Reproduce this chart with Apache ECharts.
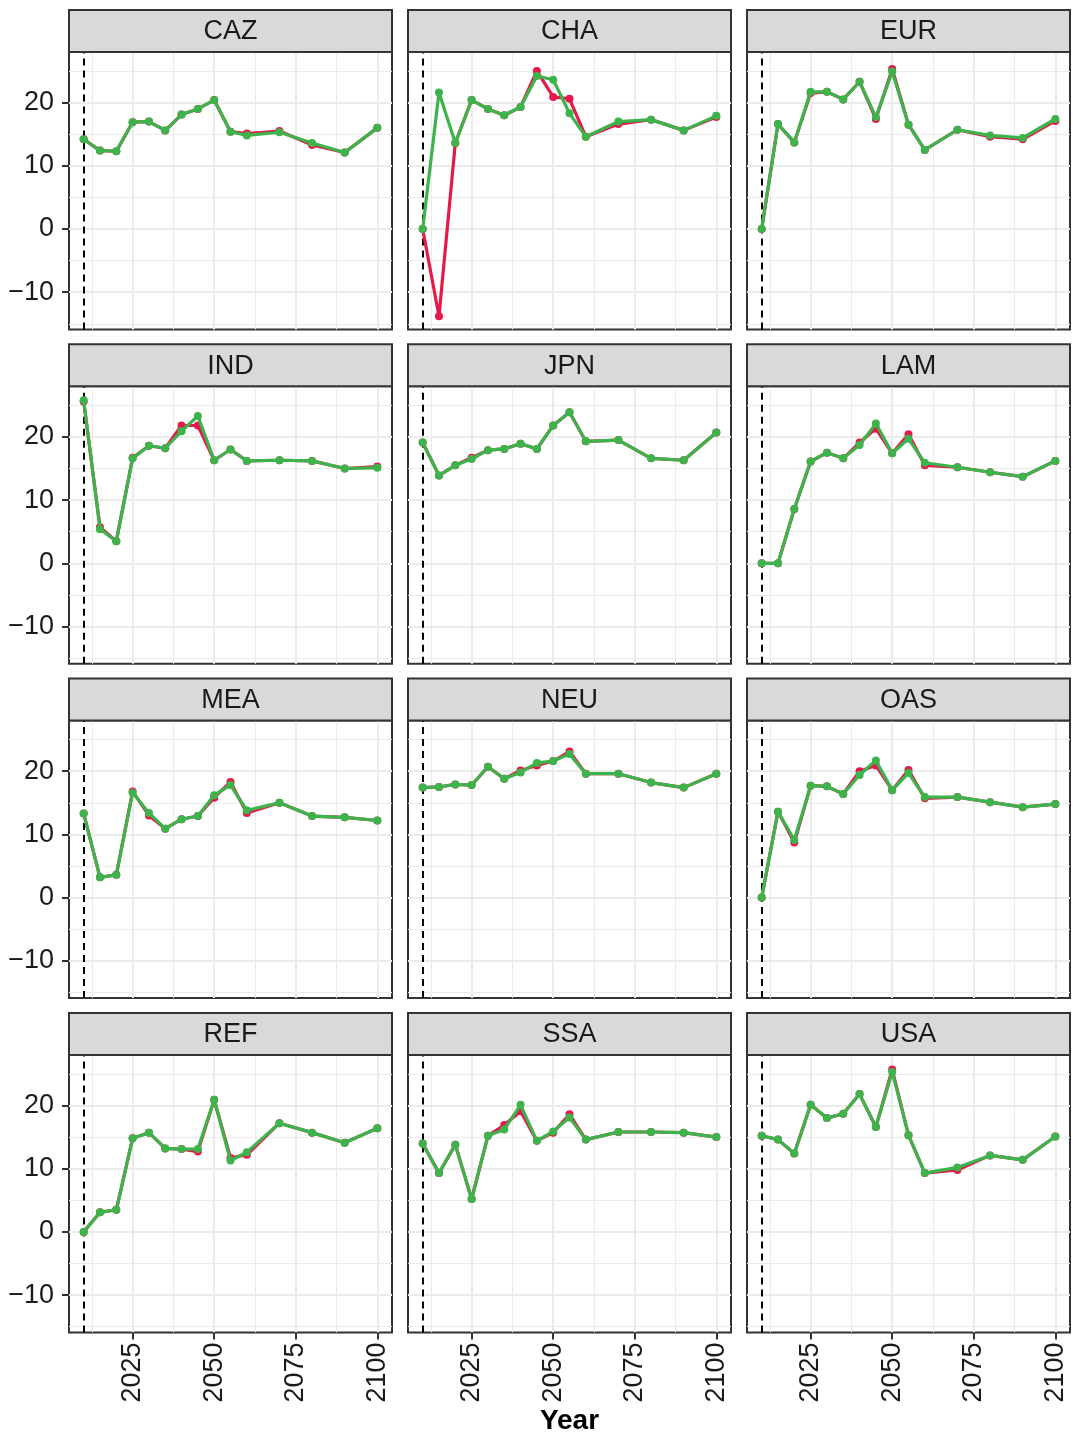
<!DOCTYPE html>
<html><head><meta charset="utf-8">
<script src="https://cdn.jsdelivr.net/npm/echarts@6/dist/echarts.min.js"></script>
<style>html,body{margin:0;padding:0;background:#fff}#c{width:1073px;height:1435px}</style>
</head><body><div id="c"></div>
<script>
// ---------------- data ----------------
const years = [2010, 2015, 2020, 2025, 2030, 2035, 2040, 2045, 2050, 2055, 2060, 2070, 2080, 2090, 2100];
const regions = ['CAZ', 'CHA', 'EUR', 'IND', 'JPN', 'LAM', 'MEA', 'NEU', 'OAS', 'REF', 'SSA', 'USA'];
const baseYear = 2010;
const xMajorTicks = [2025, 2050, 2075, 2100];
const xMinorTicks = [2012.5, 2037.5, 2062.5, 2087.5];
const yMajorTicks = [-10, 0, 10, 20];
const yMinorTicks = [-15, -5, 5, 15, 25];

const CAZ_red   = [14.2, 12.4, 12.3, 16.9, 17.0, 15.6, 18.1, 19.0, 20.4, 15.4, 15.1, 15.5, 13.3, 12.1, 16.0];
const CAZ_green = [14.2, 12.4, 12.3, 16.9, 17.0, 15.6, 18.1, 19.0, 20.4, 15.4, 14.8, 15.3, 13.6, 12.1, 16.0];
const CHA_red   = [0, -13.8, 13.6, 20.4, 19.0, 18.0, 19.3, 25.0, 20.9, 20.6, 14.6, 16.6, 17.3, 15.6, 17.7];
const CHA_green = [0, 21.6, 13.6, 20.4, 19.0, 18.0, 19.3, 24.2, 23.6, 18.3, 14.6, 17.0, 17.3, 15.6, 17.9];
const EUR_red   = [0, 16.6, 13.7, 21.5, 21.7, 20.5, 23.3, 17.4, 25.3, 16.5, 12.5, 15.7, 14.6, 14.2, 17.1];
const EUR_green = [0, 16.6, 13.7, 21.7, 21.7, 20.5, 23.3, 17.7, 24.9, 16.5, 12.5, 15.7, 14.8, 14.4, 17.4];
const IND_red   = [25.6, 5.7, 3.5, 16.7, 18.6, 18.2, 21.8, 21.8, 16.3, 18.0, 16.2, 16.3, 16.2, 15.0, 15.3];
const IND_green = [25.8, 5.4, 3.5, 16.6, 18.6, 18.2, 20.9, 23.3, 16.3, 18.0, 16.2, 16.3, 16.2, 15.0, 15.1];
const JPN_red   = [19.1, 13.9, 15.5, 16.7, 17.9, 18.1, 18.9, 18.1, 21.8, 23.9, 19.3, 19.5, 16.6, 16.3, 20.7];
const JPN_green = [19.1, 13.9, 15.5, 16.5, 17.9, 18.1, 18.9, 18.1, 21.8, 23.9, 19.3, 19.5, 16.6, 16.3, 20.7];
const LAM_red   = [0, 0, 8.6, 16.1, 17.5, 16.6, 19.1, 21.3, 17.4, 20.4, 15.5, 15.2, 14.4, 13.7, 16.2];
const LAM_green = [0, 0, 8.6, 16.1, 17.5, 16.6, 18.7, 22.1, 17.4, 19.7, 15.9, 15.2, 14.4, 13.7, 16.2];
const MEA_red   = [13.3, 3.2, 3.6, 16.8, 13.0, 10.9, 12.4, 12.9, 15.8, 18.3, 13.4, 15.0, 12.9, 12.7, 12.2];
const MEA_green = [13.3, 3.2, 3.6, 16.6, 13.4, 10.9, 12.4, 12.9, 16.2, 17.8, 13.8, 15.0, 12.9, 12.7, 12.2];
const NEU_red   = [17.4, 17.5, 17.9, 17.8, 20.7, 18.8, 20.1, 20.9, 21.6, 23.1, 19.6, 19.6, 18.2, 17.4, 19.6];
const NEU_green = [17.4, 17.5, 17.9, 17.8, 20.7, 18.8, 19.8, 21.3, 21.6, 22.7, 19.6, 19.6, 18.2, 17.4, 19.6];
const OAS_red   = [0, 13.6, 8.7, 17.7, 17.6, 16.4, 20.0, 20.9, 17.0, 20.2, 15.7, 15.9, 15.1, 14.3, 14.8];
const OAS_green = [0, 13.6, 9.1, 17.7, 17.6, 16.4, 19.4, 21.7, 17.0, 19.7, 15.9, 15.9, 15.1, 14.3, 14.8];
const REF_red   = [0, 3.1, 3.5, 14.8, 15.7, 13.2, 13.1, 12.7, 20.9, 11.7, 12.2, 17.2, 15.7, 14.1, 16.4];
const REF_green = [0, 3.1, 3.5, 14.8, 15.7, 13.2, 13.1, 13.1, 20.9, 11.3, 12.6, 17.2, 15.7, 14.1, 16.4];
const SSA_red   = [14.0, 9.3, 13.8, 5.2, 15.2, 16.9, 19.1, 14.4, 15.7, 18.6, 14.6, 15.8, 15.8, 15.7, 15.0];
const SSA_green = [14.0, 9.3, 13.8, 5.2, 15.2, 16.2, 20.1, 14.4, 15.9, 18.1, 14.6, 15.8, 15.8, 15.7, 15.0];
const USA_red   = [15.2, 14.6, 12.4, 20.1, 18.0, 18.7, 21.8, 16.6, 25.7, 15.3, 9.3, 9.8, 12.1, 11.4, 15.1];
const USA_green = [15.2, 14.6, 12.4, 20.1, 18.0, 18.7, 21.8, 16.6, 25.3, 15.3, 9.3, 10.2, 12.1, 11.4, 15.1];

const redData = {CAZ: CAZ_red, CHA: CHA_red, EUR: EUR_red, IND: IND_red, JPN: JPN_red, LAM: LAM_red,
                 MEA: MEA_red, NEU: NEU_red, OAS: OAS_red, REF: REF_red, SSA: SSA_red, USA: USA_red};
const greenData = {CAZ: CAZ_green, CHA: CHA_green, EUR: EUR_green, IND: IND_green, JPN: JPN_green, LAM: LAM_green,
                   MEA: MEA_green, NEU: NEU_green, OAS: OAS_green, REF: REF_green, SSA: SSA_green, USA: USA_green};

// ---------------- layout / style ----------------
const RED = '#E6194B', GREEN = '#3CB44B';
const FONT = '"Liberation Sans", Arial, Helvetica, sans-serif';
const colLeft = [69, 408, 747];
const rowTop = [52, 386.3, 720.6, 1054.9];
const panelW = 323, panelH = 277.5, stripH = 42;
const xMin = 2005.5, xMax = 2104.5, yMin = -15.9, yMax = 28.0;
const BORDER = '#333333', GRIDC = '#EBEBEB';
const TXT = 27;

const grid = [], xAxis = [], yAxis = [], series = [], graphic = [];

regions.forEach((reg, i) => {
  const r = Math.floor(i / 3), c = i % 3;
  grid.push({left: colLeft[c], top: rowTop[r], width: panelW, height: panelH,
             show: true, backgroundColor: '#fff', borderColor: BORDER, borderWidth: 2,
             containLabel: false, outerBoundsMode: 'none'});
  const bottomRow = r === 3, leftCol = c === 0;
  // major x
  xAxis.push({gridIndex: i, type: 'value', min: xMin, max: xMax, position: 'bottom',
    axisLine: {show: false, onZero: false},
    axisTick: {show: bottomRow, length: 7, customValues: xMajorTicks, lineStyle: {color: BORDER, width: 2}},
    axisLabel: {show: bottomRow, customValues: xMajorTicks, rotate: 90, margin: 10, fontSize: TXT,
                color: '#1A1A1A', fontFamily: FONT, formatter: v => String(v)},
    splitLine: {show: true, lineStyle: {color: GRIDC, width: 2}}, z: 1});
  // minor x
  xAxis.push({gridIndex: i, type: 'value', min: xMin, max: xMax, position: 'top',
    axisLine: {show: false, onZero: false}, axisTick: {show: false, customValues: xMinorTicks},
    axisLabel: {show: false, customValues: xMinorTicks},
    splitLine: {show: true, lineStyle: {color: GRIDC, width: 1}}, z: 0});
  // major y
  yAxis.push({gridIndex: i, type: 'value', min: yMin, max: yMax, position: 'left',
    axisLine: {show: false, onZero: false},
    axisTick: {show: leftCol, length: 7, customValues: yMajorTicks, lineStyle: {color: BORDER, width: 2}},
    axisLabel: {show: leftCol, customValues: yMajorTicks, margin: 15, fontSize: TXT,
                color: '#1A1A1A', fontFamily: FONT,
                formatter: v => (v < 0 ? '\u2212' + Math.abs(v) : String(v))},
    splitLine: {show: true, lineStyle: {color: GRIDC, width: 2}}, z: 1});
  // minor y
  yAxis.push({gridIndex: i, type: 'value', min: yMin, max: yMax, position: 'right',
    axisLine: {show: false, onZero: false}, axisTick: {show: false, customValues: yMinorTicks},
    axisLabel: {show: false, customValues: yMinorTicks},
    splitLine: {show: true, lineStyle: {color: GRIDC, width: 1}}, z: 0});

  const mk = (name, vals, color, z, withLine) => {
    const s = {type: 'line', name: name, xAxisIndex: 2 * i, yAxisIndex: 2 * i,
      data: years.map((y, k) => [y, vals[k]]),
      symbol: 'circle', symbolSize: 8, showSymbol: true, z: z,
      lineStyle: {color: color, width: 3.2}, itemStyle: {color: color},
      emphasis: {disabled: true}, animation: false, silent: true};
    if (withLine) {
      s.markLine = {silent: true, symbol: ['none', 'none'], label: {show: false}, z: 1,
        lineStyle: {color: '#000', type: [7, 5], width: 2}, emphasis: {disabled: true},
        data: [{xAxis: baseYear}], animation: false};
    }
    return s;
  };
  series.push(mk('Red', redData[reg], RED, 2, true));
  series.push(mk('Green', greenData[reg], GREEN, 3, false));

  // strip
  graphic.push({type: 'rect', silent: true, z: 10,
    shape: {x: colLeft[c], y: rowTop[r] - stripH, width: panelW, height: stripH},
    style: {fill: '#D9D9D9', stroke: BORDER, lineWidth: 2}});
  graphic.push({type: 'text', silent: true, z: 11,
    x: colLeft[c] + panelW / 2, y: rowTop[r] - stripH / 2 + 1,
    style: {text: reg, fontSize: TXT, fontFamily: FONT, fill: '#1A1A1A',
            align: 'center', verticalAlign: 'middle', textAlign: 'center', textVerticalAlign: 'middle'}});
});

graphic.push({type: 'text', silent: true, z: 11, x: (colLeft[0] + colLeft[2] + panelW) / 2, y: 1421,
  style: {text: 'Year', fontSize: 28, fontWeight: 'bold', fontFamily: FONT, fill: '#000',
          align: 'center', verticalAlign: 'middle', textAlign: 'center', textVerticalAlign: 'middle'}});

const chart = echarts.init(document.getElementById('c'), null, {renderer: 'canvas'});
chart.setOption({animation: false, backgroundColor: '#fff', grid, xAxis, yAxis, series, graphic});
</script></body></html>
